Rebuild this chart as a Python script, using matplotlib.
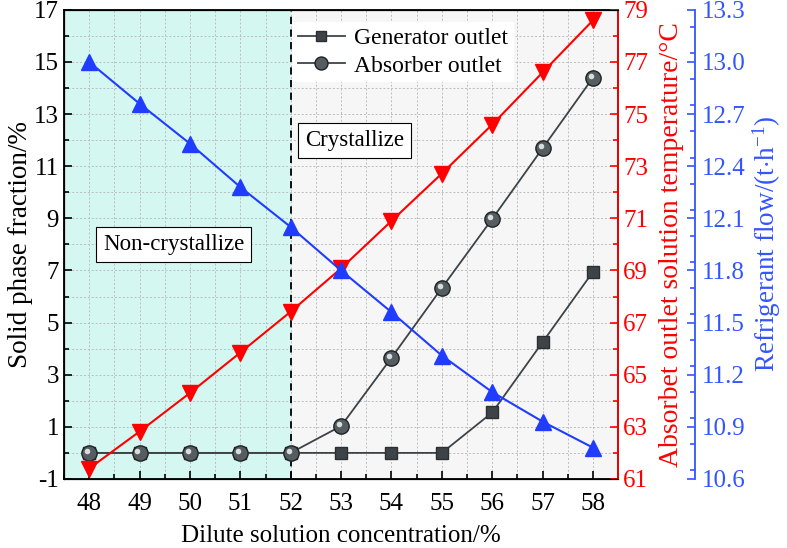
import numpy as np
import matplotlib
matplotlib.use("Agg")
import matplotlib.pyplot as plt
import matplotlib.transforms as mtransforms
from matplotlib.ticker import MultipleLocator, FormatStrFormatter

plt.rcParams['font.family'] = ['Liberation Serif', 'DejaVu Serif']
plt.rcParams['mathtext.fontset'] = 'custom'
plt.rcParams['mathtext.rm'] = 'Liberation Serif'
plt.rcParams['mathtext.it'] = 'Liberation Serif:italic'
plt.rcParams['axes.unicode_minus'] = False

# data
conc = [48, 49, 50, 51, 52, 53, 54, 55, 56, 57, 58]
generator = [0, 0, 0, 0, 0, 0, 0, 0, 1.55, 4.25, 6.95]
absorber = [0, 0, 0, 0, 0, 1.03, 3.65, 6.33, 8.98, 11.69, 14.4]
temp = [61.4, 62.82, 64.3, 65.85, 67.42, 69.08, 70.9, 72.72, 74.6, 76.6, 78.6]
flow = [13.0, 12.76, 12.53, 12.28, 12.05, 11.8, 11.56, 11.31, 11.1, 10.93, 10.78]

FS = 18
YFS = 19.5

fig = plt.figure(figsize=(7.87, 5.48), dpi=100)
ax = fig.add_axes([0.0813, 0.126, 0.7042, 0.856])

ax.set_xlim(47.5, 58.5)
ax.set_ylim(-1, 17)
ax.axvspan(47.5, 52, color='#d5f7f1', zorder=0)
ax.axvspan(52, 58.5, color='#f6f6f6', zorder=0)
ax.axvline(52, color='black', ls=(0, (4, 3)), lw=1.3, zorder=1)

ax.xaxis.set_major_locator(MultipleLocator(1))
ax.xaxis.set_minor_locator(MultipleLocator(0.5))
ax.set_yticks(np.arange(-1, 18, 2))
ax.yaxis.set_minor_locator(MultipleLocator(1))
ax.grid(which='both', color='#bdbdbd', ls=(0, (2, 2)), lw=0.7, zorder=0.5)
ax.set_axisbelow(True)
ax.tick_params(which='both', direction='in', labelsize=FS, width=1.2)
ax.tick_params(which='major', length=6)
ax.tick_params(which='minor', length=3.5)
ax.tick_params(axis='x', pad=10)
ax.tick_params(axis='y', which='both', right=False)
for s in ax.spines.values():
    s.set_linewidth(1.3)

ax.plot(conc, generator, color='#3d4347', lw=1.3, marker='s', ms=9,
        mec='#2a2f33', mfc='#3d4347', label='Generator outlet', zorder=3)
ax.plot(conc, absorber, color='#3d4347', lw=1.3, marker='o', ms=11,
        mec='#1e2225', mfc='#555d61', label='Absorber outlet', zorder=3)
# small highlight so the balls look shaded
shine = ax.transData + mtransforms.ScaledTranslation(-1.5 / 72, 1.5 / 72, fig.dpi_scale_trans)
ax.plot(conc, absorber, ls='none', marker='o', ms=4, mfc='#d9dcdc', mec='none',
        transform=shine, zorder=3.1)

ax.set_xlabel('Dilute solution concentration/%', fontsize=FS, labelpad=7)
ax.set_ylabel('Solid phase fraction/%', fontsize=YFS, labelpad=1)

leg = ax.legend(loc='upper left', bbox_to_anchor=(0.39, 1.0), fontsize=17,
                frameon=True, framealpha=1, edgecolor='none', fancybox=False,
                handlelength=2.0, handletextpad=0.4, borderpad=0.25,
                labelspacing=0.25, markerscale=0.85)
leg.set_zorder(5)

ax.text(53.26, 12.0, 'Crystallize', fontsize=16.5, ha='center', va='center',
        bbox=dict(boxstyle='square,pad=0.3', fc='white', ec='black', lw=0.8), zorder=6)
ax.text(49.68, 8.0, 'Non-crystallize', fontsize=16.5, ha='center', va='center',
        bbox=dict(boxstyle='square,pad=0.3', fc='white', ec='black', lw=0.8), zorder=6)

# red axis
ax2 = ax.twinx()
ax2.set_ylim(61, 79)
ax2.set_yticks(np.arange(61, 80, 2))
ax2.yaxis.set_minor_locator(MultipleLocator(1))
ax2.plot(conc, temp, color='#ff0000', lw=1.5, marker='v', ms=12, zorder=4)
ax2.spines['right'].set_color('#ff0000')
ax2.spines['right'].set_linewidth(1.3)
ax2.tick_params(axis='y', which='both', direction='in', colors='#ff0000',
                labelsize=FS, width=1.2)
ax2.tick_params(axis='y', which='major', length=6)
ax2.tick_params(axis='y', which='minor', length=3.5)
ax2.set_ylabel('Absorbet outlet solution temperature/°C', fontsize=YFS + 0.5,
               color='#ff0000', labelpad=8)

# blue axis
ax3 = ax.twinx()
ax3.spines['right'].set_position(('outward', 55.5))
ax3.spines['right'].set_color('#3355ff')
ax3.spines['right'].set_linewidth(1.3)
ax3.set_ylim(10.6, 13.3)
ax3.set_yticks(np.arange(10.6, 13.31, 0.3))
ax3.yaxis.set_major_formatter(FormatStrFormatter('%.1f'))
ax3.yaxis.set_minor_locator(MultipleLocator(0.15))
ax3.plot(conc, flow, color='#1f3cff', lw=1.5, marker='^', ms=12, zorder=4)
ax3.tick_params(axis='y', which='both', direction='in', colors='#3355ff',
                labelsize=FS, width=1.2, pad=5)
ax3.tick_params(axis='y', which='major', length=6)
ax3.tick_params(axis='y', which='minor', length=3.5)
ax3.set_ylabel(r'Refrigerant flow/(t$\cdot$h$^{\mathregular{-1}}$)', fontsize=YFS,
               color='#3355ff', labelpad=3)

fig.savefig('out.png', dpi=100)
